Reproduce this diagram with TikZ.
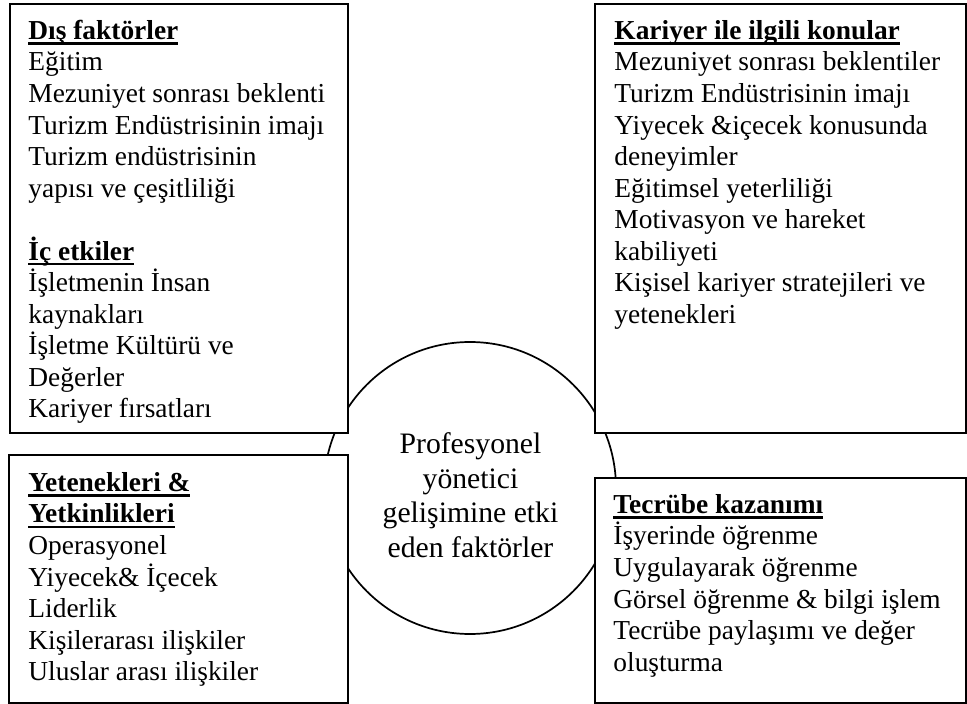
\documentclass[tikz,border=0pt]{standalone}
\usepackage{fontspec}
\setmainfont{Liberation Serif}
% one drawing unit
\newdimen\pxu \pxu=0.438pt
% bold heading with a heavy underline
\newcommand{\hd}[1]{{\setbox0\hbox{\bfseries #1}\rlap{\rule[-2.2pt]{\wd0}{0.9pt}}\box0}}
% fixes the height of the first line of a text block
\newcommand{\tstrut}{\rule{0pt}{10pt}}
\begin{document}
\begin{tikzpicture}[x=0.438pt, y=-0.438pt,
  panel/.style={draw, line width=0.85pt, fill=white, rectangle, inner sep=0pt, anchor=north west},
  body/.style={anchor=north west, inner sep=0pt, align=left, font=\fontsize{12}{13.8}\selectfont},
  core/.style={draw, circle, line width=0.75pt, inner sep=0pt, minimum size=292\pxu},
  coretext/.style={anchor=north, inner sep=0pt, align=center, font=\fontsize{13}{15.2}\selectfont}]
\useasboundingbox (0,0) rectangle (967,704);

% central circle, partly hidden behind the four panels
\node[core] (centre) at (470,488) {};

% the four panels
\node[panel, minimum width=338\pxu, minimum height=429\pxu] (tl) at (9,3) {};
\node[panel, minimum width=371\pxu, minimum height=429\pxu] (tr) at (594,3) {};
\node[panel, minimum width=339\pxu, minimum height=248.5\pxu] (bl) at (8,454) {};
\node[panel, minimum width=371\pxu, minimum height=225.5\pxu] (br) at (594,477) {};

% panel contents
\node[body] (tltext) at (28,16.2) {\tstrut\hd{Dış faktörler}\\
  Eğitim\\
  Mezuniyet sonrası beklenti\\
  Turizm Endüstrisinin imajı\\
  Turizm endüstrisinin\\
  yapısı ve çeşitliliği\\[13.8pt]
  \hd{İç etkiler}\\
  İşletmenin İnsan\\
  kaynakları\\
  İşletme Kültürü ve\\
  Değerler\\
  Kariyer fırsatları};

\node[body] (trtext) at (614,16.2) {\tstrut\hd{Kariyer ile ilgili konular}\\
  Mezuniyet sonrası beklentiler\\
  Turizm Endüstrisinin imajı\\
  Yiyecek \&içecek konusunda\\
  deneyimler\\
  Eğitimsel yeterliliği\\
  Motivasyon ve hareket\\
  kabiliyeti\\
  Kişisel kariyer stratejileri ve\\
  yetenekleri};

\node[body] (bltext) at (28,468.2) {\tstrut\hd{Yetenekleri \&}\\
  \hd{Yetkinlikleri}\\
  Operasyonel\\
  Yiyecek\& İçecek\\
  Liderlik\\
  Kişilerarası ilişkiler\\
  Uluslar arası ilişkiler};

\node[body] (brtext) at (613,490.2) {\tstrut\hd{Tecrübe kazanımı}\\
  İşyerinde öğrenme\\
  Uygulayarak öğrenme\\
  Görsel öğrenme \& bilgi işlem\\
  Tecrübe paylaşımı ve değer\\
  oluşturma};

% caption inside the circle
\node[coretext] (centretext) at (470.5,430.2) {\tstrut Profesyonel\\
  yönetici\\
  gelişimine etki\\
  eden faktörler};
\end{tikzpicture}
\end{document}
